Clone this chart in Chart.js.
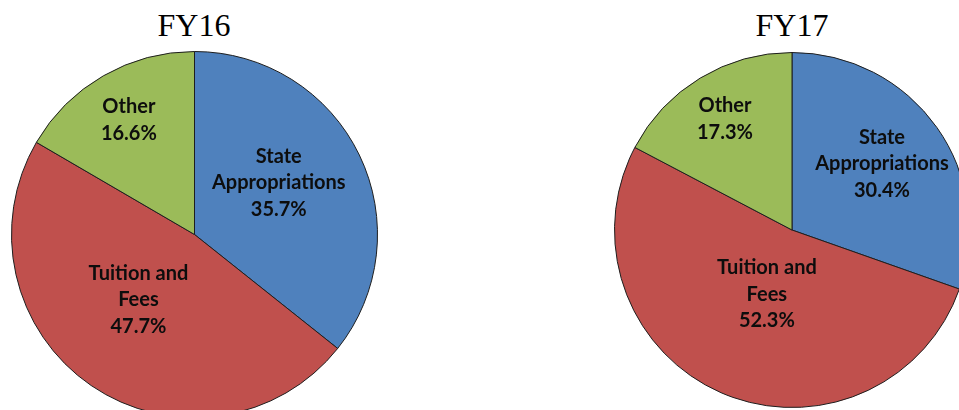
<!DOCTYPE html>
<html lang="en">
  <head>
    <meta charset="UTF-8" />
    <title>FY16 / FY17 Revenue Sources</title>
    <script src="https://cdn.jsdelivr.net/npm/chart.js"></script>
    <style>
      html, body { margin: 0; padding: 0; background: #fff; overflow: hidden; width: 959px; height: 410px; }
      .title { position: absolute; width: 200px; text-align: center; font-family: "Liberation Serif", "Times New Roman", serif; font-size: 32px; line-height: 32px; color: #000; }
      .pie { position: absolute; }
    </style>
  </head>
  <body>
    <div class="title" style="left: 94px; top: 9px;">FY16</div>
    <div class="title" style="left: 692px; top: 9px;">FY17</div>
    <div class="pie" style="left: 11px; top: 51px; width: 367px; height: 367px;"><canvas id="fy16"></canvas></div>
    <div class="pie" style="left: 614px; top: 52px; width: 356px; height: 356px;"><canvas id="fy17"></canvas></div>

    <script>
      // data (percent of total)
      const categories = ['State Appropriations', 'Tuition and Fees', 'Other'];
      const labelLines = [['State', 'Appropriations'], ['Tuition and', 'Fees'], ['Other']];
      const fy16 = [35.7, 47.7, 16.6];
      const fy17 = [30.4, 52.3, 17.3];
      const colors = ['#4F81BD', '#C0504D', '#9BBB59'];

      // draws the "best fit" style labels inside each slice
      const sliceLabels = {
        id: 'sliceLabels',
        afterDatasetsDraw(chart, args, opts) {
          const ctx = chart.ctx;
          const meta = chart.getDatasetMeta(0);
          const values = chart.data.datasets[0].data;
          ctx.save();
          ctx.fillStyle = '#0d0d0d';
          ctx.font = 'bold 20px Lato, "Open Sans", sans-serif';
          ctx.textAlign = 'center';
          ctx.textBaseline = 'middle';
          meta.data.forEach((arc, i) => {
            const p = arc.getProps(['x', 'y', 'startAngle', 'endAngle', 'outerRadius'], true);
            const mid = (p.startAngle + p.endAngle) / 2 + (opts.angleShift[i] || 0);
            const r = p.outerRadius * opts.radius[i];
            const cx = p.x + Math.cos(mid) * r;
            const cy = p.y + Math.sin(mid) * r;
            const lines = labelLines[i].concat([values[i].toFixed(1) + '%']);
            const lh = 26.5;
            lines.forEach((t, k) => {
              ctx.fillText(t, cx, cy + (k - (lines.length - 1) / 2) * lh);
            });
          });
          ctx.restore();
        }
      };

      function makePie(id, values, radius, angleShift) {
        return new Chart(document.getElementById(id), {
          type: 'pie',
          data: {
            labels: categories,
            datasets: [{
              data: values,
              backgroundColor: colors,
              borderColor: '#1e1e1e',
              borderWidth: 1
            }]
          },
          options: {
            responsive: true,
            maintainAspectRatio: false,
            animation: false,
            events: [],
            layout: { padding: 0 },
            plugins: {
              legend: { display: false },
              tooltip: { enabled: false },
              sliceLabels: { radius: radius, angleShift: angleShift }
            }
          },
          plugins: [sliceLabels]
        });
      }

      makePie('fy16', fy16, [0.54, 0.47, 0.72], [-0.1, 0.11, 0]);
      makePie('fy17', fy17, [0.63, 0.39, 0.73], [-0.02, -0.04, 0]);
    </script>
  </body>
</html>
